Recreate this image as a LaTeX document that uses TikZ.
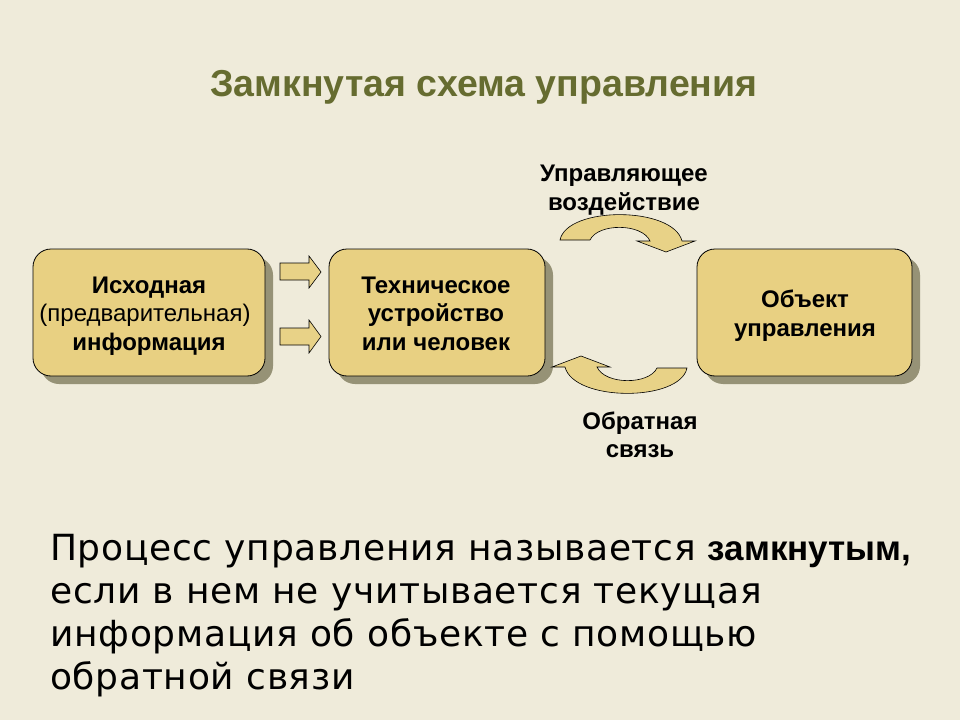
\documentclass[tikz,border=0pt]{standalone}
\usepackage{fontspec}
\setmainfont{Liberation Sans}
\newfontfamily\dejavu[LetterSpace=2]{DejaVu Sans}
\newfontfamily\boldnarrow{Liberation Sans}
\definecolor{bg}{RGB}{239,235,218}
\definecolor{boxfill}{RGB}{232,208,130}
\definecolor{shadowc}{RGB}{150,146,118}
\definecolor{titlec}{RGB}{102,108,48}
\definecolor{arrowfill}{RGB}{232,210,135}
\tikzset{
  x=1bp, y=-1bp,
  boxstyle/.style={draw=black, line width=0.8bp, fill=boxfill, rounded corners=18bp},
  shadowstyle/.style={fill=shadowc, rounded corners=18bp},
  boxtext/.style={font=\fontsize{24bp}{28.5bp}\selectfont\bfseries, align=center, inner sep=0pt, anchor=base},
  plaintext/.style={font=\fontsize{24bp}{28.5bp}\selectfont, align=center, inner sep=0pt, anchor=base},
  labeltext/.style={font=\fontsize{24bp}{28bp}\selectfont\bfseries, align=center, inner sep=0pt, anchor=base},
  blockarrow/.style={draw=black, line width=0.6bp, fill=arrowfill},
  bodytext/.style={font=\dejavu\fontsize{36bp}{43bp}\selectfont, anchor=base west, inner sep=0pt},
}
\begin{document}
\begin{tikzpicture}
\fill[bg] (0,0) rectangle (960,720);
\useasboundingbox (0,0) rectangle (960,720);

% title
\node[font=\fontsize{37.5bp}{44bp}\selectfont\bfseries, text=titlec, anchor=base, inner sep=0pt] (title) at (484,97) {Замкнутая схема управления};

% shadows
\fill[shadowstyle] (41,257) rectangle (273,384);
\fill[shadowstyle] (337,257) rectangle (553,384);
\fill[shadowstyle] (705,257) rectangle (920,384);

% boxes
\draw[boxstyle] (33,249) rectangle (265,376);
\draw[boxstyle] (329,249) rectangle (545,376);
\draw[boxstyle] (697,249) rectangle (912,376);

\node[boxtext] (t1a) at (149,293) {Исходная};
\node[plaintext] (t1b) at (145,321.5) {(предварительная)};
\node[boxtext] (t1c) at (149,350) {информация};

\node[boxtext] (t2a) at (436,293) {Техническое};
\node[boxtext] (t2b) at (436,321.5) {устройство};
\node[boxtext] (t2c) at (436,350) {или человек};

\node[boxtext] (t3a) at (805,307) {Объект};
\node[boxtext] (t3b) at (805,336) {управления};

% small block arrows
\draw[blockarrow] (280,263) -- (309,263) -- (309,256) -- (321,272) -- (309,288) -- (309,280) -- (280,280) -- cycle;
\draw[blockarrow] (280,328) -- (309,328) -- (309,320) -- (321,336.5) -- (309,353) -- (309,345) -- (280,345) -- cycle;

% curved arrows
\def\curvarrow{(-67,0) .. controls (-60,-34) and (46,-34) .. (55,1) -- (68,1) -- (39,12) -- (10,1) -- (23,1) .. controls (15,-17) and (-29,-17) .. (-37,0) -- cycle}
\draw[blockarrow, shift={(627,240)}] \curvarrow;
\draw[blockarrow, shift={(620,368)}, rotate=180] \curvarrow;

% labels
\node[labeltext] (l1a) at (624,182) {Управляющее};
\node[labeltext] (l1b) at (624,210) {воздействие};
\node[labeltext] (l2a) at (640,429) {Обратная};
\node[labeltext] (l2b) at (640,457) {связь};

% body text
\node[bodytext] (p1) at (50,560) {Процесс управления называется {\boldnarrow\fontsize{35bp}{43bp}\selectfont\bfseries замкнутым,}};
\node[bodytext] (p2) at (50,603) {если в нем не учитывается текущая};
\node[bodytext] (p3) at (50,646) {информация об объекте с помощью};
\node[bodytext] (p4) at (50,689) {обратной связи};
\end{tikzpicture}
\end{document}
